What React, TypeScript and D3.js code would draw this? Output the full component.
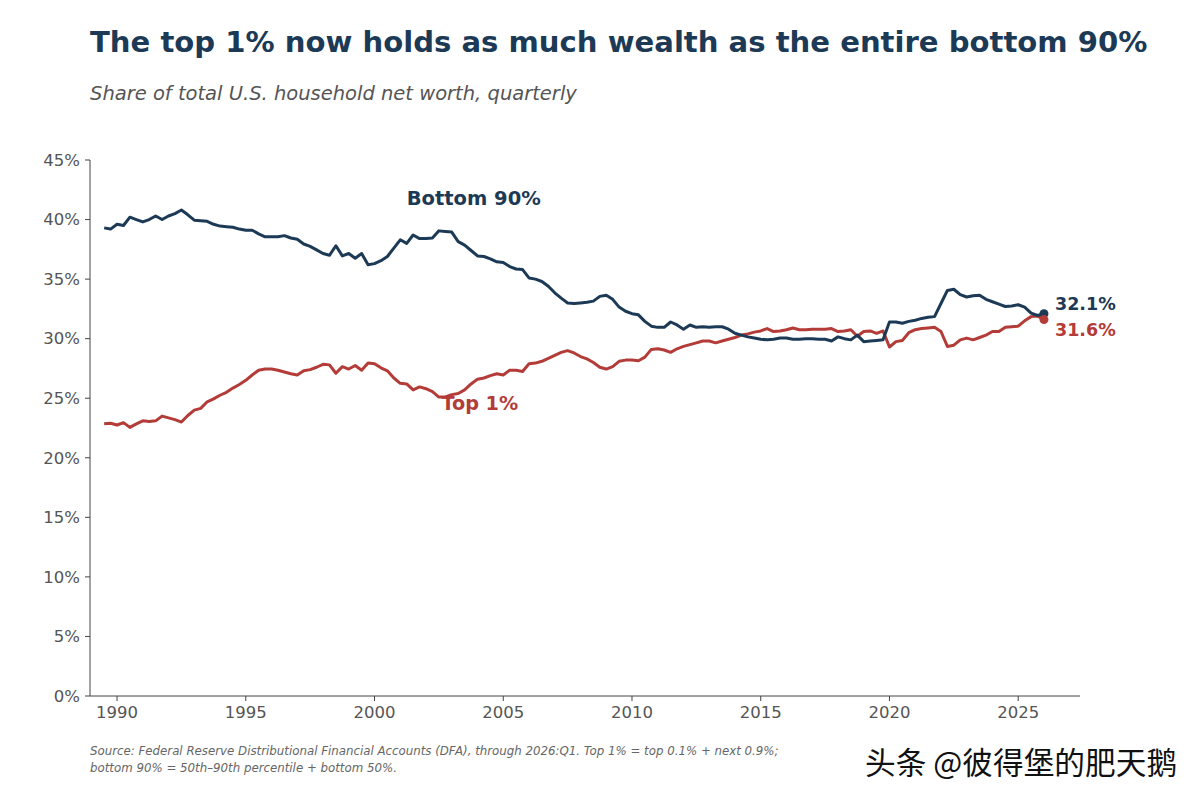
import React from "react";
import * as d3 from "d3";

// Quarterly series, first point is 1989:Q3, last is 2026:Q1
const firstQuarter = 1989.5;

const bottom90 = [
  39.3, 39.2,
  39.6, 39.5, 40.2, 40.0,
  39.8, 40.0, 40.3, 40.0,
  40.3, 40.5, 40.8, 40.4,
  39.95, 39.9, 39.85, 39.6,
  39.45, 39.4, 39.35, 39.2,
  39.1, 39.1, 38.8, 38.55,
  38.55, 38.55, 38.65, 38.45,
  38.35, 37.95, 37.75, 37.45,
  37.15, 37.0, 37.8, 36.95,
  37.15, 36.75, 37.15, 36.2,
  36.3, 36.55, 36.9, 37.6,
  38.3, 38.0, 38.7, 38.4,
  38.4, 38.45, 39.05, 39.0,
  38.95, 38.15, 37.85, 37.4,
  36.95, 36.9, 36.7, 36.45,
  36.4, 36.05, 35.85, 35.8,
  35.1, 35.0, 34.8, 34.4,
  33.85, 33.4, 33.0, 32.95,
  33.0, 33.05, 33.15, 33.55,
  33.65, 33.3, 32.65, 32.3,
  32.1, 32.0, 31.45, 31.05,
  30.95, 30.95, 31.4, 31.15,
  30.8, 31.15, 30.95, 31.0,
  30.95, 31.0, 31.0, 30.8,
  30.45, 30.3, 30.15, 30.05,
  29.95, 29.9, 29.95, 30.05,
  30.05, 29.95, 29.95, 30.0,
  30.0, 29.95, 29.95, 29.8,
  30.15, 30.0, 29.9, 30.3,
  29.75, 29.8, 29.85, 29.9,
  31.4, 31.4, 31.3, 31.45,
  31.55, 31.7, 31.8, 31.85,
  32.95, 34.05, 34.15, 33.7,
  33.5, 33.6, 33.65, 33.3,
  33.1, 32.9, 32.7, 32.75,
  32.85, 32.65, 32.15, 31.95,
  32.1,
];

const top1 = [
  22.85, 22.9,
  22.75, 22.95, 22.55, 22.85,
  23.1, 23.05, 23.1, 23.5,
  23.35, 23.2, 23.0, 23.55,
  24.0, 24.15, 24.7, 24.95,
  25.25, 25.5, 25.85, 26.15,
  26.5, 26.95, 27.35, 27.45,
  27.45, 27.35, 27.2, 27.05,
  26.95, 27.3, 27.4, 27.6,
  27.85, 27.8, 27.1, 27.65,
  27.45, 27.75, 27.35, 27.95,
  27.9, 27.55, 27.3, 26.7,
  26.25, 26.2, 25.7, 25.95,
  25.8, 25.55, 25.1, 25.1,
  25.3, 25.4, 25.7, 26.2,
  26.6, 26.7, 26.9, 27.05,
  26.95, 27.35, 27.35, 27.25,
  27.9, 27.95, 28.1, 28.35,
  28.6, 28.85, 29.0, 28.8,
  28.5, 28.3, 28.0, 27.6,
  27.45, 27.65, 28.1, 28.2,
  28.2, 28.15, 28.45, 29.1,
  29.15, 29.05, 28.85, 29.15,
  29.35, 29.5, 29.65, 29.8,
  29.8, 29.65, 29.8, 29.95,
  30.1, 30.3, 30.4, 30.55,
  30.65, 30.85, 30.6, 30.65,
  30.75, 30.9, 30.75, 30.75,
  30.8, 30.8, 30.8, 30.85,
  30.6, 30.65, 30.75, 30.2,
  30.6, 30.65, 30.45, 30.65,
  29.3, 29.75, 29.85, 30.5,
  30.75, 30.85, 30.9, 30.95,
  30.6, 29.35, 29.45, 29.9,
  30.05, 29.9, 30.1, 30.3,
  30.6, 30.6, 30.95, 31.0,
  31.05, 31.5, 31.85, 31.9,
  31.6,
];

const yTicks = [0, 5, 10, 15, 20, 25, 30, 35, 40, 45];
const xTicks = [1990, 1995, 2000, 2005, 2010, 2015, 2020, 2025];

const NAVY = "#1c3a56";
const RED = "#b33c38";
const GREY = "#555555";
const FONT = "'DejaVu Sans', sans-serif";

const width = 1200;
const height = 800;
const plot = { left: 90, right: 1080, top: 160, bottom: 696 };

export default function App() {
  const x = d3.scaleLinear().domain([1988.95, 2027.4]).range([plot.left, plot.right]);
  const y = d3.scaleLinear().domain([0, 45]).range([plot.bottom, plot.top]);

  const quarter = (i: number) => firstQuarter + i * 0.25;
  const line = d3
    .line<number>()
    .x((_, i) => x(quarter(i)))
    .y((d) => y(d));

  const lastIdx = bottom90.length - 1;
  const lastB = bottom90[lastIdx];
  const lastT = top1[lastIdx];
  const endX = x(quarter(lastIdx));

  return (
    <svg
      width={width}
      height={height}
      style={{ position: "absolute", left: 0, top: 0, background: "#fff" }}
      fontFamily={FONT}
    >
      <rect width={width} height={height} fill="#fff" />

      <text x={90} y={52} fontSize={29.1} fontWeight="bold" fill={NAVY}>
        The top 1% now holds as much wealth as the entire bottom 90%
      </text>
      <text x={90} y={100} fontSize={19.5} fontStyle="italic" fill={GREY}>
        Share of total U.S. household net worth, quarterly
      </text>

      {/* y axis */}
      <line x1={plot.left} x2={plot.left} y1={plot.top} y2={plot.bottom} stroke="#444" strokeWidth={1} />
      {yTicks.map((t) => (
        <g key={t} transform={`translate(${plot.left},${y(t)})`}>
          <line x1={-5} x2={0} stroke="#444" />
          <text x={-10} dy="0.35em" textAnchor="end" fontSize={16.5} fill={GREY}>
            {`${t}%`}
          </text>
        </g>
      ))}

      {/* x axis */}
      <line x1={plot.left} x2={plot.right} y1={plot.bottom} y2={plot.bottom} stroke="#444" strokeWidth={1} />
      {xTicks.map((t) => (
        <g key={t} transform={`translate(${x(t)},${plot.bottom})`}>
          <line y1={0} y2={5} stroke="#444" />
          <text y={22} textAnchor="middle" fontSize={16.5} fill={GREY}>
            {t}
          </text>
        </g>
      ))}

      <path d={line(top1) ?? ""} fill="none" stroke={RED} strokeWidth={3} strokeLinejoin="round" />
      <path d={line(bottom90) ?? ""} fill="none" stroke={NAVY} strokeWidth={3} strokeLinejoin="round" />

      <circle cx={endX} cy={y(lastB)} r={4.5} fill={NAVY} />
      <circle cx={endX} cy={y(lastT)} r={4.5} fill={RED} />

      <text x={endX + 11} y={y(lastB) - 4} fontSize={17.5} fontWeight="bold" fill={NAVY}>
        {`${lastB.toFixed(1)}%`}
      </text>
      <text x={endX + 11} y={y(lastT) + 16} fontSize={17.5} fontWeight="bold" fill={RED}>
        {`${lastT.toFixed(1)}%`}
      </text>

      <text x={x(2001.25)} y={y(41.25)} fontSize={19.5} fontWeight="bold" fill={NAVY}>
        Bottom 90%
      </text>
      <text x={x(2002.6)} y={y(24.0)} fontSize={19.2} fontWeight="bold" fill={RED}>
        Top 1%
      </text>

      <text x={90} y={755} fontSize={11.8} fontStyle="italic" fill="#666">
        Source: Federal Reserve Distributional Financial Accounts (DFA), through 2026:Q1. Top 1% = top 0.1% + next 0.9%;
      </text>
      <text x={90} y={772} fontSize={11.8} fontStyle="italic" fill="#666">
        bottom 90% = 50th–90th percentile + bottom 50%.
      </text>

      <text
        x={865}
        y={774}
        fontSize={30.7}
        fontFamily="'Noto Sans CJK SC', sans-serif"
        fill="#111"
      >
        头条 @彼得堡的肥天鹅
      </text>
    </svg>
  );
}
